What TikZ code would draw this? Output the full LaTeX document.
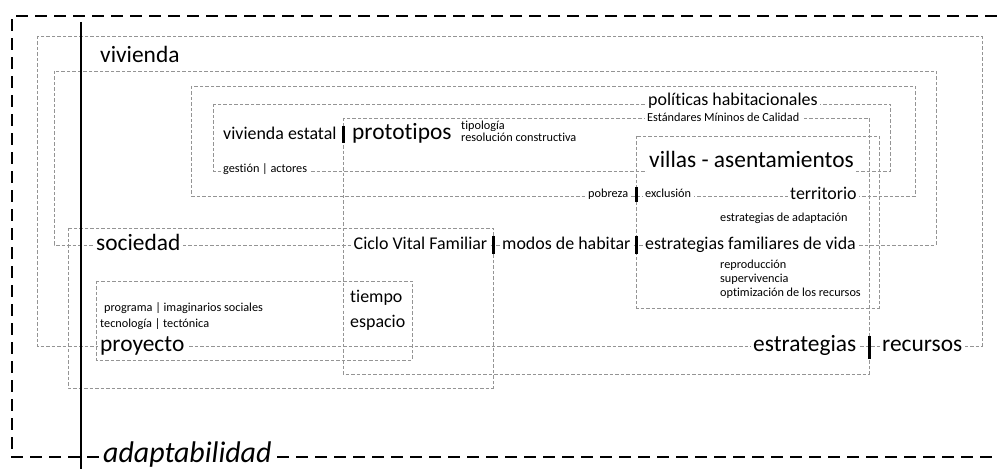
\documentclass[tikz,border=0pt]{standalone}
\usepackage{fontspec}
\setmainfont{Carlito}[Ligatures=NoCommon]
\tikzset{
  box/.style={draw=black!42, dash pattern=on 3.5bp off 2bp, line width=0.7bp},
  outer/.style={draw=black, dash pattern=on 12bp off 7bp, line width=2.5bp},
  lbl/.style={fill=white, inner xsep=2.5bp, inner ysep=2bp, anchor=base west, text=black},
  sm/.style={lbl, font=\fontsize{12.3}{14}\selectfont},
  md/.style={lbl, font=\fontsize{18}{20}\selectfont},
  lg/.style={lbl, font=\fontsize{23.5}{26}\selectfont},
  xl/.style={lbl, font=\fontsize{30}{32}\selectfont\itshape},
  bar/.style={line width=3bp, black}
}
\begin{document}
\begin{tikzpicture}[x=1bp,y=-1bp]
\useasboundingbox (0,0) rectangle (997,469);
% outer frame (open on the right)
\coordinate (otr) at (997,16);
\coordinate (otl) at (12,16);
\coordinate (obl) at (12,457);
\coordinate (obr) at (997,457);
\draw[outer] (otr) -- (otl) -- (obl) -- (obr);
% grey dashed boxes
\draw[box] (37,36) rectangle (982,346);   % vivienda
\draw[box] (54,71) rectangle (936,245);   % sociedad
\draw[box] (191,86) rectangle (915,196);  % territorio
\draw[box] (213,104) rectangle (890,171); % politicas
\draw[box] (343,118) rectangle (869,374);  % prototipos
\draw[box] (636.5,136) rectangle (879,308);  % villas
\draw[box] (68,228) rectangle (493,388);  % ciclo vital
\draw[box] (96,281) rectangle (412,360);  % proyecto
% vertical axis
\coordinate (vtop) at (81,22);
\coordinate (vbot) at (81,469);
\draw[line width=1.5bp] (vtop) -- (vbot);
% labels
\node[lg] (viv) at (97.5,63) {vivienda};
\node[md] (pol) at (645.5,106) {políticas habitacionales};
\node[sm] (est) at (644.5,122) {Estándares Míninos de Calidad};
\node[md] (vest) at (220.5,140) {vivienda estatal};
\node[lg] (proto) at (349.5,140) {prototipos};
\node[sm] (tipo) at (458.5,129.5) {tipología};
\node[sm] (reso) at (458.5,142) {resolución constructiva};
\node[sm] (gest) at (220.5,173) {gestión | actores};
\node[lg, inner ysep=4bp] (villas) at (646.5,168) {villas - asentamientos};
\node[sm] (pob) at (585.5,198) {pobreza};
\node[sm] (excl) at (642.5,198) {exclusión};
\node[md] (terr) at (787.5,200) {territorio};
\node[sm] (adapt) at (717.5,222) {estrategias de adaptación};
\node[lg] (soc) at (93.5,250.5) {sociedad};
\node[md] (ciclo) at (351,250) {Ciclo Vital Familiar};
\node[md] (modos) at (499.5,250) {modos de habitar};
\node[md] (efv) at (642.5,250) {estrategias familiares de vida};
\node[sm] (repr) at (717.5,269) {reproducción};
\node[sm] (superv) at (717.5,283) {supervivencia};
\node[sm] (optim) at (717.5,297) {optimización de los recursos};
\node[md] (tiempo) at (347.5,302.5) {tiempo};
\node[md] (espacio) at (347.5,328) {espacio};
\node[sm] (prog) at (101.5,312) {programa | imaginarios sociales};
\node[sm] (tecn) at (97.5,328) {tecnología | tectónica};
\node[lg] (proy) at (97.5,351.5) {proyecto};
\node[lg] (estr) at (750.5,352) {estrategias};
\node[lg] (recu) at (879.5,352) {recursos};
\node[xl] (adaptab) at (100.5,462) {adaptabilidad};
% separator bars
\coordinate (b1a) at (343,126);   \coordinate (b1b) at (343,143);
\coordinate (b2a) at (636.5,187); \coordinate (b2b) at (636.5,202);
\coordinate (b3a) at (493,236);   \coordinate (b3b) at (493,254);
\coordinate (b4a) at (636.5,236); \coordinate (b4b) at (636.5,254);
\coordinate (b5a) at (869,336);   \coordinate (b5b) at (869,359);
\draw[bar] (b1a) -- (b1b);
\draw[bar] (b2a) -- (b2b);
\draw[bar] (b3a) -- (b3b);
\draw[bar] (b4a) -- (b4b);
\draw[bar] (b5a) -- (b5b);
\end{tikzpicture}
\end{document}
